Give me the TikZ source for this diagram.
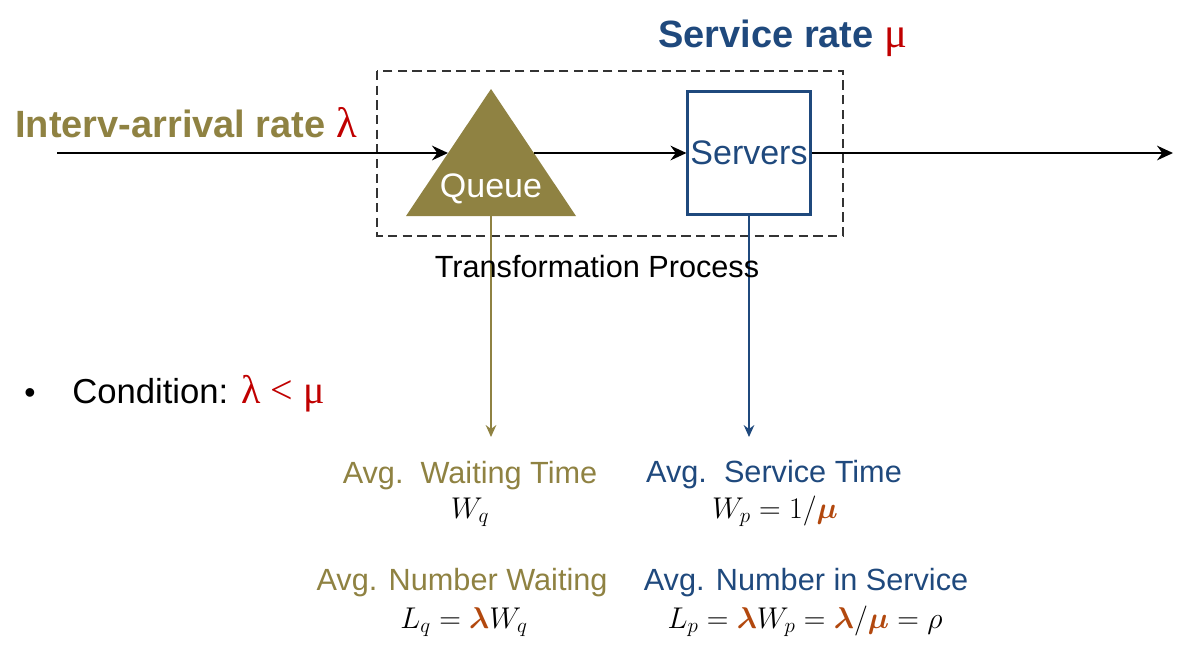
\documentclass[tikz,border=0pt]{standalone}
\usepackage{fix-cm}
\usepackage{fontspec}
\usepackage{amsmath}
\setmainfont{Liberation Sans}
\newfontfamily\symf{Liberation Serif}
\usetikzlibrary{arrows.meta}
\definecolor{qolive}{RGB}{143,130,66}
\definecolor{qblue}{RGB}{31,73,125}
\definecolor{qred}{RGB}{192,0,0}
\definecolor{qbrown}{RGB}{178,72,14}
\newcommand{\fs}[1]{\fontsize{#1}{#1}\selectfont}
\newcommand{\bl}{\textcolor{qbrown}{\boldsymbol{\lambda}}}
\newcommand{\bm}{\textcolor{qbrown}{\boldsymbol{\mu}}}
\begin{document}
\begin{tikzpicture}[x=0.75pt,y=-0.75pt,
  lbl/.style={inner sep=0pt, anchor=base},
  flow/.style={line width=1.5pt, -{Stealth[length=12pt,width=11pt,inset=4pt]}},
  drop/.style={line width=1.1pt, -{Stealth[length=9pt,width=8pt,inset=3pt]}},
  avg/.style={lbl, font=\fs{23}},
  eq/.style={lbl, font=\fs{22.5}}]
\useasboundingbox (0,0) rectangle (1185,658);
% dashed process box
\draw[line width=1.1pt, dash pattern=on 7pt off 4pt, black!80] (377,71) rectangle (843,236);
% queue triangle
\coordinate (qa) at (491,89);
\coordinate (ql) at (406,216);
\coordinate (qr) at (576,216);
\coordinate (qbase) at (491,216);
\coordinate (qin) at (448,153);
\coordinate (qout) at (534,153);
\fill[qolive] (qa) -- (ql) -- (qr) -- cycle;
\node[lbl, text=white, font=\fs{25.5}] (queue) at (491,197) {Queue};
% servers box
\node[draw=qblue, line width=1.8pt, minimum width=92pt, minimum height=92pt, inner sep=0pt,
      text=qblue, font=\fs{25.5}] (srv) at (749,153) {Servers};
% flow
\coordinate (start) at (57,153);
\coordinate (end) at (1173,153);
\draw[flow] (start) -- (qin);
\draw[flow] (qout) -- (srv.west);
\draw[flow] (srv.east) -- (end);
% drops
\coordinate (qdrop) at (491,437);
\coordinate (sdrop) at (749,437);
\draw[drop, qolive] (qbase) -- (qdrop);
\draw[drop, qblue] (srv.south) -- (sdrop);
% headings
\node[lbl, anchor=base west, font=\bfseries\fs{28.5}, text=qolive] (arr) at (15,137)
  {Interv-arrival rate \textcolor{qred}{\mdseries\symf\fs{32}λ}};
\node[lbl, anchor=base west, font=\bfseries\fs{28.5}, text=qblue] (svc) at (658,47)
  {Service rate \textcolor{qred}{\mdseries\symf\fs{32}μ}};
\node[lbl, font=\fs{23}] (tp) at (597,277) {Transformation Process};
% condition
\node[lbl, anchor=base west, font=\fs{24}] (bul) at (24,403) {•};
\node[lbl, anchor=base west, font=\fs{26}] (cond) at (72,403)
  {Condition: \textcolor{qred}{\symf\fs{30}λ < μ}};
% bottom labels
\node[avg, text=qolive] (wt) at (470,483) {Avg.\ \ Waiting Time};
\node[eq] (wq) at (470,518) {$W_q$};
\node[avg, text=qolive] (nw) at (462,590) {Avg. Number Waiting};
\node[eq] (lq) at (464,628) {$L_q = \bl W_q$};
\node[avg, text=qblue] (st) at (774,482) {Avg.\ \ Service Time};
\node[eq] (wp) at (775,518) {$W_p = 1/\bm$};
\node[avg, text=qblue] (ns) at (806,590) {Avg. Number in Service};
\node[eq] (lp) at (805,628) {$L_p = \bl W_p = \bl/\bm = \rho$};
\end{tikzpicture}
\end{document}
